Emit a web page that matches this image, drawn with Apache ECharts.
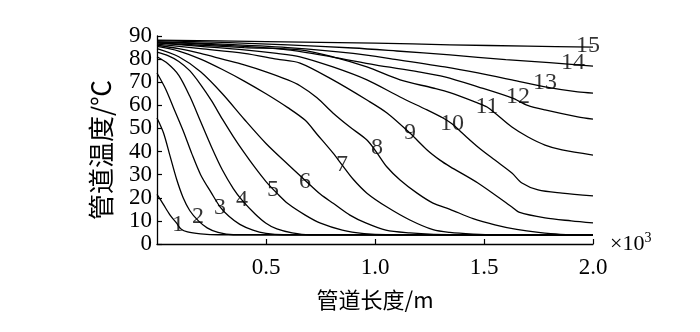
<!DOCTYPE html>
<html><head><meta charset="utf-8">
<script src="https://cdn.jsdelivr.net/npm/echarts@6/dist/echarts.min.js"></script>
<style>html,body{margin:0;padding:0;background:#fff}#c{width:700px;height:332px}</style>
</head><body><div id="c"></div>
<script>
// x in 10^3 m, y in °C
const c1=[[0,21.5],[0.03,17],[0.06,12.5],[0.09,9],[0.11,6.5],[0.14,5.2],[0.2,4.4],[0.28,4],[2.0,4]];
const c2=[[0,54.5],[0.03,48],[0.06,38],[0.09,28],[0.12,20],[0.15,14.5],[0.19,10],[0.23,7],[0.28,5],[0.35,4],[2.0,4]];
const c3=[[0,74],[0.04,67],[0.08,58],[0.12,49],[0.16,39],[0.2,30],[0.25,22],[0.29,16],[0.33,12],[0.38,8.5],[0.44,6],[0.5,4.6],[0.58,4],[2.0,4]];
const c4=[[0,81],[0.05,78],[0.1,73],[0.15,64],[0.2,53],[0.25,42],[0.3,32],[0.35,24],[0.39,19],[0.45,13],[0.5,9],[0.55,6.5],[0.62,4.8],[0.7,4],[2.0,4]];
const c5=[[0,83],[0.05,81.5],[0.1,79],[0.15,75],[0.2,69],[0.25,62],[0.3,54],[0.35,46.5],[0.4,39.5],[0.45,33],[0.5,27],[0.55,22],[0.6,17.5],[0.68,12.5],[0.75,9],[0.85,6],[0.95,4.5],[1.05,4],[2.0,4]];
const c6=[[0,84.5],[0.1,81],[0.2,74.5],[0.3,65],[0.4,54],[0.5,43.5],[0.6,34.5],[0.68,27.5],[0.75,21.5],[0.81,17.5],[0.885,12.5],[0.96,9],[1.05,6],[1.16,4.8],[1.27,4.2],[1.4,4],[2.0,4]];
const c7=[[0,85.5],[0.1,83.5],[0.2,80],[0.3,75.5],[0.4,70.5],[0.5,65],[0.6,59],[0.68,53.5],[0.734,47.5],[0.807,39.4],[0.849,34.2],[0.9,28],[0.963,22],[1.055,16],[1.16,10.4],[1.266,6.2],[1.344,5],[1.45,4.3],[1.55,4],[2.0,4]];
const c8=[[0,86],[0.1,84.5],[0.2,82.5],[0.3,80],[0.4,77.5],[0.5,74.5],[0.6,71],[0.656,68.5],[0.734,63.3],[0.807,56.7],[0.885,50.6],[0.963,45],[1.005,40],[1.055,33.3],[1.115,27.7],[1.193,22],[1.266,17.7],[1.344,15],[1.45,11],[1.55,8.3],[1.65,6.3],[1.75,5],[1.85,4.2],[2.0,4]];
const c9=[[0,86.5],[0.2,84.5],[0.4,82.5],[0.55,80],[0.656,78.3],[0.807,71],[0.963,62.3],[1.055,56.7],[1.16,48],[1.239,40.7],[1.298,36.3],[1.344,33.5],[1.472,26.4],[1.628,16],[1.66,13.8],[1.78,11.3],[1.9,10],[2.0,9.1]];
const c10=[[0,87],[0.2,85.5],[0.4,84],[0.55,82.5],[0.656,81],[0.807,76.6],[0.963,71],[1.115,63.6],[1.239,58],[1.312,54.5],[1.353,52],[1.4,48],[1.472,42],[1.55,36.3],[1.628,30.7],[1.674,26.4],[1.748,23.4],[1.858,22],[2.0,20.8]];
const c11=[[0,87],[0.2,86],[0.4,85],[0.656,84],[0.807,81],[0.963,76.6],[1.115,71],[1.266,67.5],[1.344,65.5],[1.472,61],[1.514,59.3],[1.55,56.7],[1.628,50.6],[1.702,46.3],[1.78,42.8],[1.858,40.7],[2.0,38.5]];
const c12=[[0,87.5],[0.3,86],[0.6,84],[0.8,81],[1.0,77.5],[1.2,74.5],[1.32,72.3],[1.472,68],[1.628,63.2],[1.7,60],[1.78,58],[1.93,55],[2.0,54]];
const c13=[[0,87.5],[0.3,86.5],[0.6,85],[0.9,82.5],[1.1,79.8],[1.32,76.6],[1.472,74],[1.628,71],[1.78,68],[1.93,65.8],[2.0,65.3]];
const c14=[[0,88],[0.3,87.2],[0.6,86.2],[0.9,84.8],[1.1,83.5],[1.344,81.8],[1.6,79.8],[1.8,78.5],[2.0,77]];
const c15=[[0,88.2],[0.5,87.6],[1.0,86.9],[1.344,86.2],[1.7,85.6],[2.0,85.2]];
const curves=[c1,c2,c3,c4,c5,c6,c7,c8,c9,c10,c11,c12,c13,c14,c15];
const curveNames=['1','2','3','4','5','6','7','8','9','10','11','12','13','14','15'];
const labelPos=[[0.096,8.2],[0.188,11.7],[0.289,15.6],[0.39,19],[0.532,23.4],[0.679,26.8],[0.849,34.2],[1.009,41.5],[1.16,48],[1.353,52],[1.514,59.3],[1.656,63.6],[1.78,70],[1.908,78.3],[1.977,86]];
const xMin=0, xMax=2, xStep=0.5;
const yMin=0, yMax=90, yStep=10;

const serif='"Liberation Serif","Times New Roman",serif';
const cjk='"Noto Sans CJK SC","Liberation Serif",serif';
const chart=echarts.init(document.getElementById('c'),null,{renderer:'canvas'});
const series=curves.map(d=>({type:'line',data:d,showSymbol:false,smooth:0.3,
  lineStyle:{color:'#000',width:1.3},silent:true,z:2}));
series.push({type:'scatter',data:labelPos,symbolSize:1,itemStyle:{color:'rgba(0,0,0,0)'},
  label:{show:true,position:'inside',formatter:p=>curveNames[p.dataIndex],color:'#000',fontFamily:serif,fontSize:24},z:3});
chart.setOption({
  animation:false,
  backgroundColor:'#fff',
  grid:{left:157,right:107,top:36,bottom:88},
  xAxis:{type:'value',min:xMin,max:xMax,interval:xStep,
    axisLine:{lineStyle:{color:'#000',width:1.3}},
    axisTick:{inside:true,length:5,lineStyle:{color:'#000',width:1.2}},
    axisLabel:{color:'#000',fontFamily:serif,fontSize:23,margin:12,showMinLabel:false,formatter:v=>v.toFixed(1)},
    splitLine:{show:false},
    name:'管道长度/m',nameLocation:'middle',nameGap:45,
    nameTextStyle:{color:'#000',fontFamily:cjk,fontSize:22}},
  yAxis:{type:'value',min:yMin,max:yMax,interval:yStep,
    axisLine:{show:true,lineStyle:{color:'#000',width:1.3}},
    axisTick:{show:true,inside:true,length:5,lineStyle:{color:'#000',width:1.2}},
    axisLabel:{color:'#000',fontFamily:serif,fontSize:23,margin:5},
    splitLine:{show:false}},
  graphic:[
    {type:'text',left:610,top:231,style:{
      rich:{a:{fontFamily:serif,fontSize:22,fill:'#000'},b:{fontFamily:serif,fontSize:14,fill:'#000',verticalAlign:'top',padding:[0,0,12,0]}},
      text:'{a|×10}{b|3}'}},
    {type:'text',x:101,y:150,rotation:Math.PI/2,style:{text:'管道温度/℃',fontFamily:cjk,fontSize:26,fill:'#000',align:'center',verticalAlign:'middle'}}
  ],
  series:series
});
</script></body></html>
